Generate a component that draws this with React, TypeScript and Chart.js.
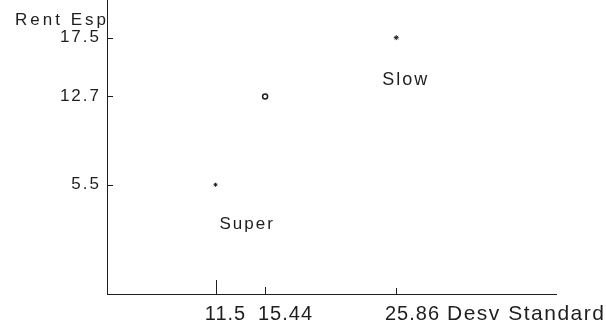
import React, { useEffect, useRef } from "react";
import { Chart, registerables } from "chart.js";

Chart.register(...registerables);

// Data
const desvStandard = [11.5, 15.44, 25.86];
const rentEsp = [5.5, 12.7, 17.5];
const pointNames = ["Super", "", "Slow"];
const xTickValues = [11.5, 15.44, 25.86];
const xTickLabels = ["11.5", "15.44", "25.86"];
const yTickValues = [5.5, 12.7, 17.5];
const yTickLabels = ["5.5", "12.7", "17.5"];
const xTitle = "Desv Standard";
const yTitle = "Rent Esp";

// Styling (label nudges / tick lengths as in the scanned original)
const FONT = "'Liberation Sans', Arial, sans-serif";
const INK = "#1e1e1e";
const xLabelNudge = [9, 20, 16];
const xTickLen = [14, 7, 6];
const nameNudge = [
  [4, 44],
  [0, 0],
  [-14, 47],
];
const nameSize = [17, 17, 18];

const decorPlugin = {
  id: "decor",
  beforeDraw(chart: any) {
    (chart.ctx as any).letterSpacing = "2px";
  },
  afterDraw(chart: any) {
    const ctx = chart.ctx as CanvasRenderingContext2D & { letterSpacing?: string };
    const area = chart.chartArea;
    const xs = chart.scales.x;
    const ys = chart.scales.y;
    ctx.save();
    ctx.strokeStyle = INK;
    ctx.lineWidth = 1;
    ctx.fillStyle = INK;
    // inward tick marks + x tick labels
    ctx.font = `20px ${FONT}`;
    ctx.letterSpacing = "1px";
    ctx.textAlign = "center";
    ctx.textBaseline = "alphabetic";
    xs.ticks.forEach((t: any, i: number) => {
      const px = Math.round(xs.getPixelForValue(t.value)) + 0.5;
      ctx.beginPath();
      ctx.moveTo(px, area.bottom);
      ctx.lineTo(px, area.bottom - (xTickLen[i] ?? 7));
      ctx.stroke();
      const idx = xTickValues.indexOf(Number(t.value));
      if (idx >= 0) ctx.fillText(xTickLabels[idx], px + (xLabelNudge[idx] ?? 0), area.bottom + 26);
    });
    ys.ticks.forEach((t: any) => {
      const py = Math.round(ys.getPixelForValue(t.value)) + 0.5;
      ctx.beginPath();
      ctx.moveTo(area.left, py);
      ctx.lineTo(area.left + 6, py);
      ctx.stroke();
    });
    // point labels
    const meta = chart.getDatasetMeta(0);
    ctx.letterSpacing = "2px";
    ctx.textAlign = "left";
    meta.data.forEach((el: any, i: number) => {
      const name = pointNames[i];
      if (!name) return;
      ctx.font = `${nameSize[i]}px ${FONT}`;
      ctx.fillText(name, el.x + nameNudge[i][0], el.y + nameNudge[i][1]);
    });
    // axis titles
    ctx.font = `17px ${FONT}`;
    ctx.letterSpacing = "3px";
    ctx.textAlign = "right";
    ctx.fillText(yTitle, area.left + 2, area.top + 25);
    ctx.font = `21px ${FONT}`;
    ctx.letterSpacing = "1.5px";
    ctx.textAlign = "left";
    ctx.fillText(xTitle, area.right - 109, area.bottom + 26);
    ctx.restore();
  },
};

export default function App() {
  const ref = useRef<HTMLCanvasElement>(null);
  useEffect(() => {
    if (!ref.current) return;
    const chart = new Chart(ref.current, {
      type: "scatter",
      data: {
        datasets: [
          {
            data: desvStandard.map((x, i) => ({ x, y: rentEsp[i] })),
            pointStyle: ["star", "circle", "star"] as any,
            pointRadius: [2, 2.5, 2.5],
            pointBorderWidth: [1, 1.5, 1],
            borderColor: INK,
            backgroundColor: "#ffffff",
          },
        ],
      },
      options: {
        responsive: false,
        animation: false,
        events: [],
        layout: { autoPadding: false, padding: { top: 0, left: 0, right: 50, bottom: 0 } },
        plugins: {
          legend: { display: false },
          tooltip: { enabled: false },
          title: { display: false },
        },
        scales: {
          x: {
            type: "linear",
            min: 2.88,
            max: 38.55,
            afterBuildTicks: (s: any) => {
              s.ticks = xTickValues.map((v) => ({ value: v }));
            },
            afterFit: (s: any) => {
              s.height = 33;
              s.paddingLeft = 0;
              s.paddingRight = 0;
            },
            ticks: { display: false },
            grid: { display: true, drawOnChartArea: false, drawTicks: false },
            border: { display: true, color: INK, width: 1 },
          },
          y: {
            type: "linear",
            min: -3.41,
            max: 20.57,
            afterBuildTicks: (s: any) => {
              s.ticks = yTickValues.map((v) => ({ value: v }));
            },
            afterFit: (s: any) => {
              s.width = 107;
              s.paddingTop = 0;
              s.paddingBottom = 0;
            },
            ticks: {
              padding: 6,
              color: INK,
              font: { family: FONT, size: 17 },
              autoSkip: false,
              callback: (v: any) => {
                const i = yTickValues.indexOf(Number(v));
                return i >= 0 ? yTickLabels[i] : "";
              },
            },
            grid: { display: true, drawOnChartArea: false, drawTicks: false },
            border: { display: true, color: INK, width: 1 },
          },
        },
      },
      plugins: [decorPlugin],
    });
    return () => chart.destroy();
  }, []);
  return (
    <div style={{ position: "absolute", left: 0, top: 0, width: 606, height: 327, background: "#fff" }}>
      <canvas ref={ref} width={606} height={327} />
    </div>
  );
}
